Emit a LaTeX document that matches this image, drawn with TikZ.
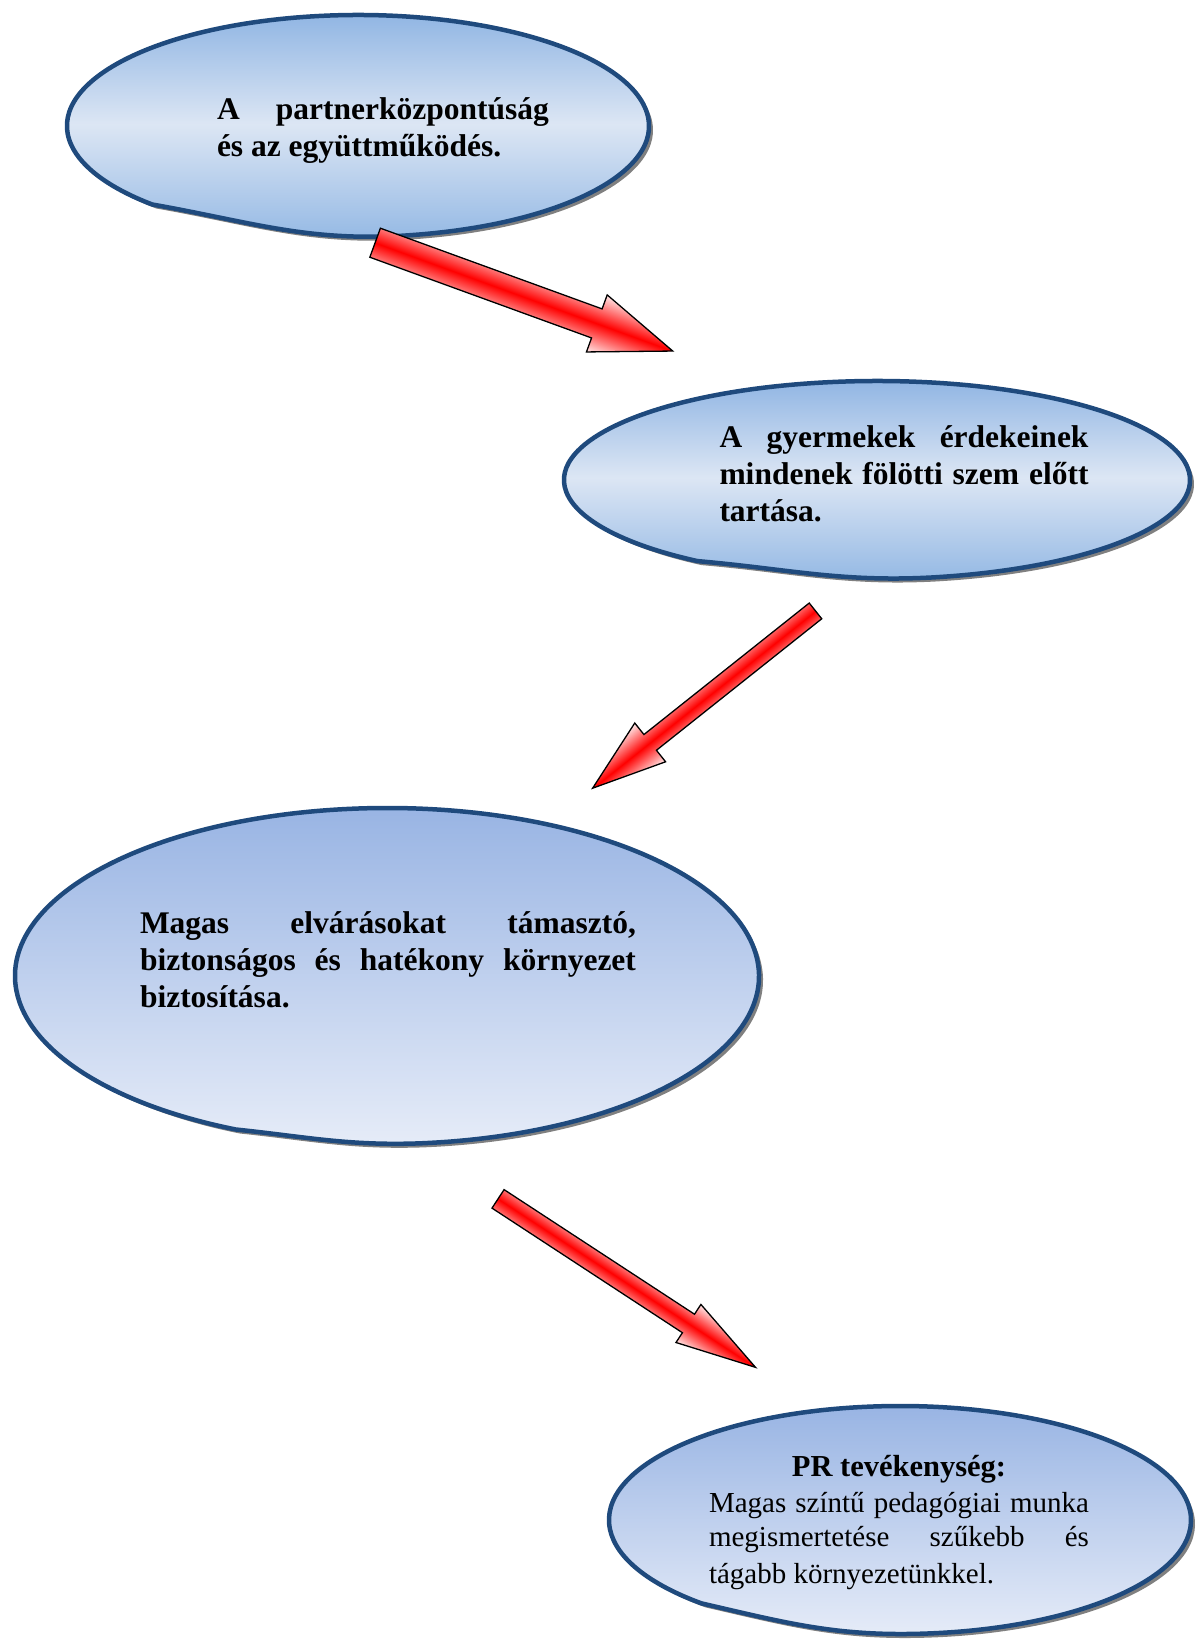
\documentclass[tikz,border=0pt]{standalone}
\usepackage{fontspec}
\setmainfont{Liberation Serif}
\usepackage{tikz}
\usetikzlibrary{shapes,shadows,calc,positioning}
\usepackage{xcolor}
\definecolor{keret}{HTML}{1F4A7D}
\definecolor{kekfent}{HTML}{8BB2E2}
\definecolor{kekkozep}{HTML}{DCE6F4}
\definecolor{keklent}{HTML}{93B8E4}
\definecolor{lilafent}{HTML}{97B3E3}
\definecolor{lilalent}{HTML}{E6ECF8}
\definecolor{arnyek}{HTML}{808080}

% 左下角被压平的椭圆: 中心x, 中心y, 半径x, 半径y, 折点角, 接点角, out, in, 样式
\newcommand{\foltrajz}[9]{%
  \shade[#9] (#1,#2) ++(#5:#3 and #4) to[out=#7, in=#8] ($(#1,#2)+(#6:#3 and #4)$)
    arc[start angle=#6, end angle=#5+360, x radius=#3, y radius=#4] -- cycle;}
% 两端对齐的一行
\newcommand{\sor}[2]{\makebox[#1][s]{#2}}

\tikzset{
  folt/.style={draw=keret, line width=4.5pt,
    drop shadow={shadow xshift=4pt, shadow yshift=-4pt, fill=arnyek, opacity=1}},
  kek/.style={folt, top color=kekfent, bottom color=keklent, middle color=kekkozep},
  lila/.style={folt, top color=lilafent, bottom color=lilalent},
  felirat/.style={align=left, inner sep=0pt,
    font=\fontsize{31.5}{37}\selectfont\bfseries,
    execute at begin node={\spaceskip=0pt\xspaceskip=0pt\relax}},
  nyil/.style={single arrow, draw=black, line width=1.3pt, inner sep=0pt,
    top color=red!8, bottom color=red!8, middle color=red, anchor=tail}
}

\begin{document}
\begin{tikzpicture}[x=1pt, y=1pt]
  \useasboundingbox (0,0) rectangle (1197,-1640);

  % 四个椭圆
  \foltrajz{358}{-126}{291}{111}{225}{280}{-10}{184}{kek}
  \foltrajz{877}{-480}{313}{99}{235}{280}{-5}{183}{kek}
  \foltrajz{387}{-976}{372}{168}{246}{275}{-6}{182}{lila}
  \foltrajz{900}{-1520}{291}{114}{227}{275}{-13}{182}{lila}

  \node[felirat, text width=332pt] (szoveg1) at (383,-131)
    {\sor{332pt}{A partnerközpontúság}\\
     és az együttműködés.};
  \node[felirat, text width=369pt] (szoveg2) at (904,-474)
    {\sor{369pt}{A gyermekek érdekeinek}\\
     \sor{369pt}{mindenek fölötti szem előtt}\\
     tartása.};
  \node[felirat, text width=496pt] (szoveg3) at (388,-960)
    {\sor{496pt}{Magas elvárásokat támasztó,}\\
     \sor{496pt}{biztonságos és hatékony környezet}\\
     biztosítása.};
  \node[felirat, text width=380pt] (szoveg4) at (899,-1523)
    {\makebox[380pt][c]{\fontsize{30.5}{36}\selectfont PR tevékenység:}\\[2pt]
     \fontsize{29}{34}\selectfont\mdseries
     \sor{380pt}{Magas színtű pedagógiai munka}\\
     \sor{380pt}{megismertetése szűkebb és}\\
     tágabb környezetünkkel.};

  % 三个箭头 (transform canvas 使渐变跟着旋转)
  \begin{scope}[transform canvas={shift={(374.5,-242.5)}, rotate=-20}]
    \coordinate (ny1) at (0,0);
    \node[nyil, inner ysep=14.8pt, minimum height=316.7pt,
      single arrow head extend=14.9pt, single arrow tip angle=41.2] (nyil1) at (ny1) {};
  \end{scope}
  \begin{scope}[transform canvas={shift={(816,-610.5)}, rotate=218.5}]
    \coordinate (ny2) at (0,0);
    \node[nyil, inner ysep=9.4pt, minimum height=284.8pt,
      single arrow head extend=14.7pt, single arrow tip angle=37.2] (nyil2) at (ny2) {};
  \end{scope}
  \begin{scope}[transform canvas={shift={(497.5,-1198.5)}, rotate=-33.2}]
    \coordinate (ny3) at (0,0);
    \node[nyil, inner ysep=10.4pt, minimum height=307.7pt,
      single arrow head extend=11.7pt, single arrow tip angle=31.7] (nyil3) at (ny3) {};
  \end{scope}
\end{tikzpicture}
\end{document}
